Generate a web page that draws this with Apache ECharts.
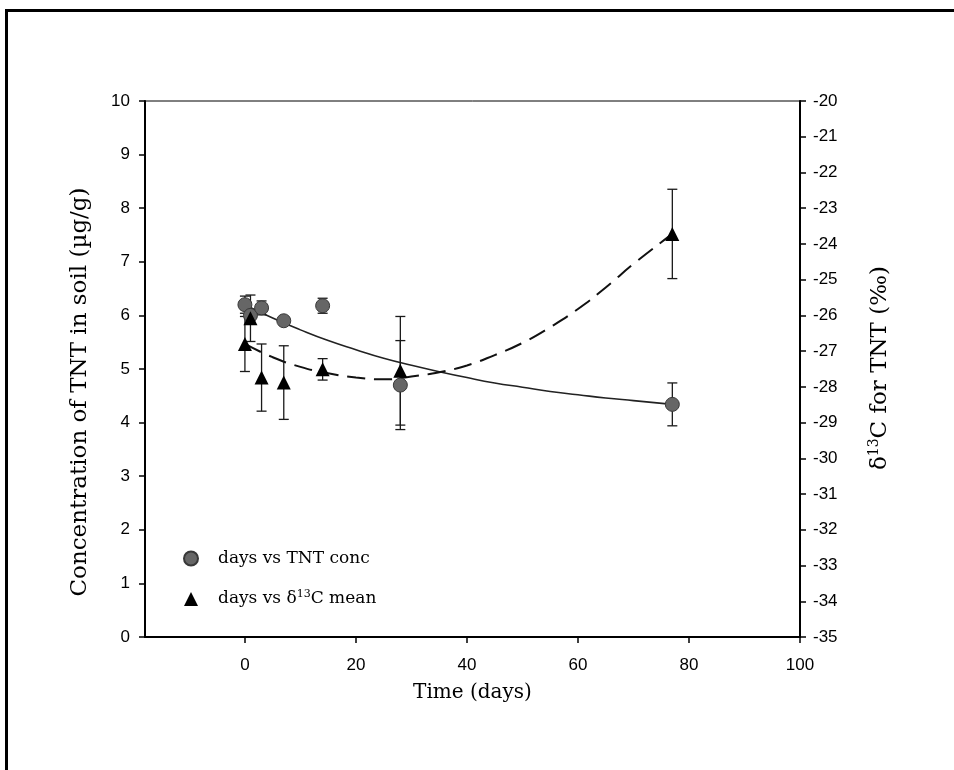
<!DOCTYPE html>
<html>
<head>
<meta charset="utf-8">
<script src="https://cdn.jsdelivr.net/npm/echarts@6/dist/echarts.min.js"></script>
<style>
    html, body { margin: 0; padding: 0; background: #fff; }
    #frame { position: absolute; left: 5px; top: 9px; width: 1000px; height: 800px; border-left: 3px solid #000; border-top: 3px solid #000; }
    #chart { position: absolute; left: 0; top: 0; width: 954px; height: 770px; }
</style>
</head>
<body>
<div id="frame"></div>
<div id="chart"></div>
<script>
// measured points (days after start)
const days = [0, 1, 3, 7, 14, 28, 77]
const tntConc = [6.20, 6.00, 6.14, 5.90, 6.18, 4.70, 4.34]
const tntErr = [0.16, 0.10, 0.13, 0.05, 0.14, 0.83, 0.40]
const d13cMean = [-26.80, -26.08, -27.74, -27.88, -27.51, -27.55, -23.72]
const d13cErr = [0.77, 0.65, 0.94, 1.03, 0.30, 1.52, 1.25]

// fitted curves
const fitDays = [0, 5, 10, 15, 20, 25, 30, 35, 40, 45, 50, 55, 60, 65, 70, 77]
const tntFit = [6.20, 5.95, 5.73, 5.53, 5.36, 5.20, 5.07, 4.95, 4.84, 4.74, 4.66, 4.58, 4.52, 4.46, 4.41, 4.34]
const d13cFit = [-26.80, -27.17, -27.44, -27.62, -27.74, -27.79, -27.71, -27.59, -27.40, -27.11, -26.77, -26.33, -25.82, -25.22, -24.56, -23.72]

const xTicks = [0, 20, 40, 60, 80, 100]

const TNT_NAME = 'days vs TNT conc'
const D13C_NAME = 'days vs \u03b413C mean'
const SERIF = '"DejaVu Serif", serif'
const SANS = '"Liberation Sans", Arial, sans-serif'

const zip = (xs, ys) => xs.map((x, i) => [x, ys[i]])
const errRows = (xs, ys, es) => xs.map((x, i) => [x, ys[i] - es[i], ys[i] + es[i]])

function renderErrorBar(params, api) {
    const x = api.value(0)
    const lo = api.coord([x, api.value(1)])
    const hi = api.coord([x, api.value(2)])
    const w = 5
    const style = { stroke: '#1a1a1a', lineWidth: 1.3 }
    return {
        type: 'group',
        children: [
            { type: 'line', shape: { x1: lo[0], y1: lo[1], x2: hi[0], y2: hi[1] }, style },
            { type: 'line', shape: { x1: lo[0] - w, y1: lo[1], x2: lo[0] + w, y2: lo[1] }, style },
            { type: 'line', shape: { x1: hi[0] - w, y1: hi[1], x2: hi[0] + w, y2: hi[1] }, style },
        ],
    }
}

const axisLine = { show: true, onZero: false, lineStyle: { color: '#000', width: 2 } }
const axisTick = { show: true, length: 6, lineStyle: { color: '#000', width: 1.5 } }
const tickLabel = { color: '#000', fontFamily: SANS, fontSize: 17 }
const supRich = (size, lift) => ({ sup: { fontFamily: SERIF, fontSize: size, verticalAlign: 'bottom', padding: [0, 0, lift, 0] } })

const chart = echarts.init(document.getElementById('chart'), null, { renderer: 'canvas' })

chart.setOption({
    animation: false,
    grid: { left: 145, top: 101, right: 154, bottom: 133, show: true, borderColor: '#000', borderWidth: 1 },
    legend: {
        orient: 'vertical',
        left: 178,
        top: 545,
        itemWidth: 14,
        itemHeight: 14,
        itemGap: 22,
        data: [TNT_NAME, D13C_NAME],
        formatter: (name) => (name === D13C_NAME ? 'days vs \u03b4{sup|13}C mean' : name),
        textStyle: { fontFamily: SERIF, fontSize: 17, color: '#000', padding: [0, 0, 0, 15], rich: supRich(11, 9) },
    },
    graphic: [
        {
            type: 'text',
            x: 80,
            y: 392,
            rotation: Math.PI / 2,
            style: {
                text: 'Concentration of TNT in soil (\u00b5g/g)',
                fontFamily: SERIF,
                fontSize: 23,
                fill: '#000',
                align: 'center',
                verticalAlign: 'middle',
            },
        },
        {
            type: 'text',
            x: 880,
            y: 368,
            rotation: Math.PI / 2,
            style: {
                text: '\u03b4{sup|13}C for TNT (\u2030)',
                fontFamily: SERIF,
                fontSize: 23,
                fill: '#000',
                align: 'center',
                verticalAlign: 'middle',
                rich: supRich(14, 11),
            },
        },
    ],
    xAxis: {
        type: 'value',
        min: -18,
        max: 100,
        name: 'Time (days)',
        nameLocation: 'middle',
        nameGap: 46,
        nameTextStyle: { fontFamily: SERIF, fontSize: 20, color: '#000' },
        axisLine,
        axisTick: { ...axisTick, customValues: xTicks },
        axisLabel: { ...tickLabel, margin: 20, customValues: xTicks },
        splitLine: { show: false },
    },
    yAxis: [
        {
            type: 'value',
            min: 0,
            max: 10,
            interval: 1,
            position: 'left',
            axisLine,
            axisTick,
            axisLabel: { ...tickLabel, margin: 15 },
            splitLine: { show: false },
        },
        {
            type: 'value',
            min: -35,
            max: -20,
            interval: 1,
            position: 'right',
            axisLine,
            axisTick,
            axisLabel: { ...tickLabel, margin: 13 },
            splitLine: { show: false },
        },
    ],
    series: [
        {
            name: 'tnt fit',
            type: 'line',
            data: zip(fitDays, tntFit),
            smooth: true,
            showSymbol: false,
            lineStyle: { color: '#222', width: 1.6 },
            z: 2,
        },
        {
            name: 'd13c fit',
            type: 'line',
            yAxisIndex: 1,
            data: zip(fitDays, d13cFit),
            smooth: true,
            showSymbol: false,
            lineStyle: { color: '#111', width: 2, type: [18, 9] },
            z: 2,
        },
        {
            name: 'tnt err',
            type: 'custom',
            renderItem: renderErrorBar,
            encode: { x: 0, y: [1, 2] },
            data: errRows(days, tntConc, tntErr),
            z: 3,
        },
        {
            name: 'd13c err',
            type: 'custom',
            yAxisIndex: 1,
            renderItem: renderErrorBar,
            encode: { x: 0, y: [1, 2] },
            data: errRows(days, d13cMean, d13cErr),
            z: 3,
        },
        {
            name: TNT_NAME,
            type: 'scatter',
            data: zip(days, tntConc),
            symbol: 'circle',
            symbolSize: 14,
            itemStyle: { color: '#666', borderColor: '#383838', borderWidth: 1, opacity: 1 },
            z: 4,
        },
        {
            name: D13C_NAME,
            type: 'scatter',
            yAxisIndex: 1,
            data: zip(days, d13cMean),
            symbol: 'triangle',
            symbolSize: 14,
            itemStyle: { color: '#000', opacity: 1 },
            z: 5,
        },
    ],
})
</script>
</body>
</html>
